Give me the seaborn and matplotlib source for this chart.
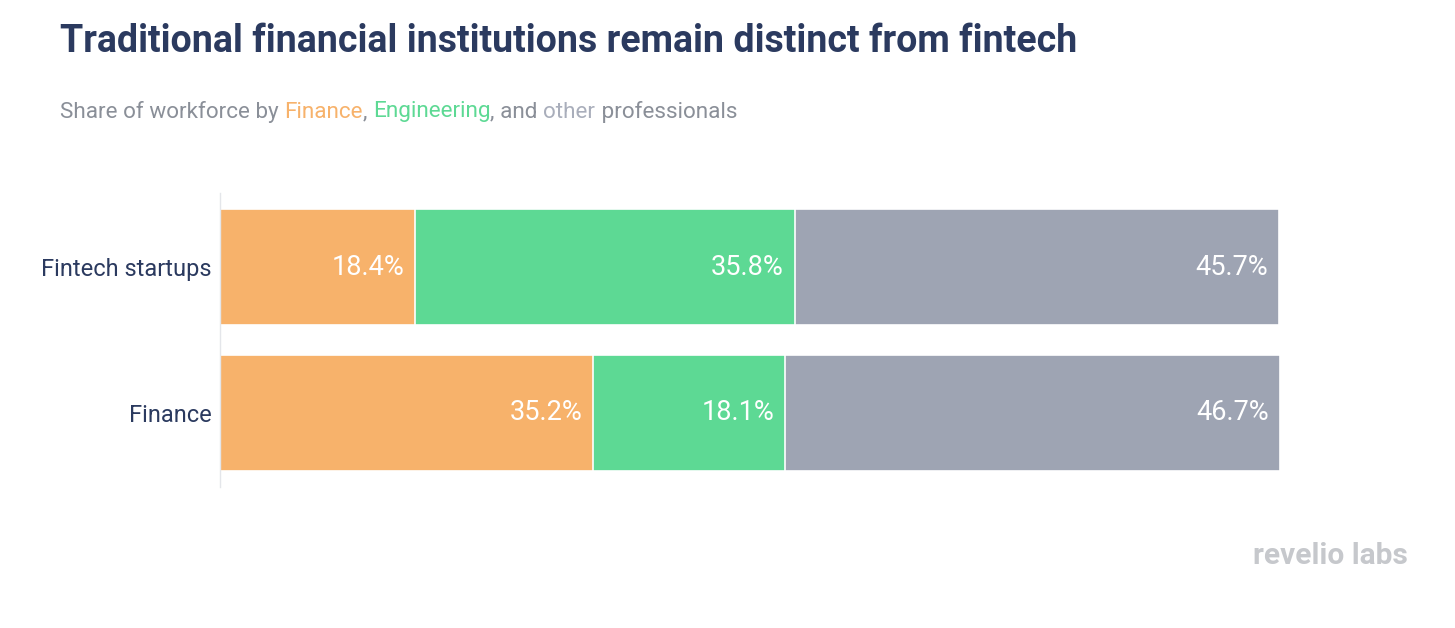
import matplotlib
matplotlib.use("Agg")
import matplotlib.pyplot as plt
import seaborn as sns
import pandas as pd
import numpy as np

categories = ["Fintech startups", "Finance"]
finance_share = [18.4, 35.2]
engineering_share = [35.8, 18.1]
other_share = [45.7, 46.7]

c_fin = "#f7b26b"
c_eng = "#5dd994"
c_oth = "#9ea4b3"
navy = "#2b3a5f"
gray_txt = "#8a8f98"

sns.set_theme(style="white")
plt.rcParams['font.family'] = ['Roboto', 'DejaVu Sans']

fig = plt.figure(figsize=(14.55, 6.28), dpi=100)
ax = fig.add_axes([220/1455, 1-487/628, (1280-220)/1455, (487-193)/628])

df = pd.DataFrame({"cat": categories,
                   "fin": finance_share,
                   "eng": engineering_share,
                   "oth": other_share})
df["c1"] = df["fin"]
df["c2"] = df["fin"] + df["eng"]
df["c3"] = df["c2"] + df["oth"]

for col, color in [("c3", c_oth), ("c2", c_eng), ("c1", c_fin)]:
    sns.barplot(data=df, x=col, y="cat", color=color, orient="h", width=0.8,
                edgecolor="white", linewidth=1.2, saturation=1, ax=ax)

for i, row in df.iterrows():
    for end, val in [(row["c1"], row["fin"]), (row["c2"], row["eng"]), (row["c3"], row["oth"])]:
        ax.text(end - 1.0, i, f"{val:.1f}%", ha="right", va="center",
                color="white", fontsize=19.5)

ax.set_xlim(0, 100)
ax.set_ylim(1.51, -0.51)
ax.set_xlabel("")
ax.set_ylabel("")
ax.set_xticks([])
ax.tick_params(axis="y", length=0, labelsize=17, labelcolor=navy, pad=6)
for s in ["top", "right", "bottom"]:
    ax.spines[s].set_visible(False)
ax.spines["left"].set_color("#e4e6ea")
ax.spines["left"].set_linewidth(1)

fig.text(60/1455, 1-41/628, "Traditional financial institutions remain distinct from fintech",
         fontsize=27, fontweight="bold", color=navy, va="center", ha="left")

# multicolor subtitle
parts = [("Share of workforce by ", gray_txt), ("Finance", c_fin), (", ", gray_txt),
         ("Engineering", c_eng), (", and ", gray_txt), ("other", "#a9aebb"),
         (" professionals", gray_txt)]
fig.canvas.draw()
renderer = fig.canvas.get_renderer()
x = 60/1455
y = 1-112/628
for txt, col in parts:
    t = fig.text(x, y, txt, fontsize=16.2, color=col, va="center", ha="left")
    bb = t.get_window_extent(renderer=renderer)
    x += bb.width / fig.bbox.width

fig.text(1408/1455, 1-556/628, "revelio labs", fontsize=21.5, fontweight="bold",
         color="#c6c8cc", ha="right", va="center")

fig.savefig("out.png", dpi=100, facecolor="white")
